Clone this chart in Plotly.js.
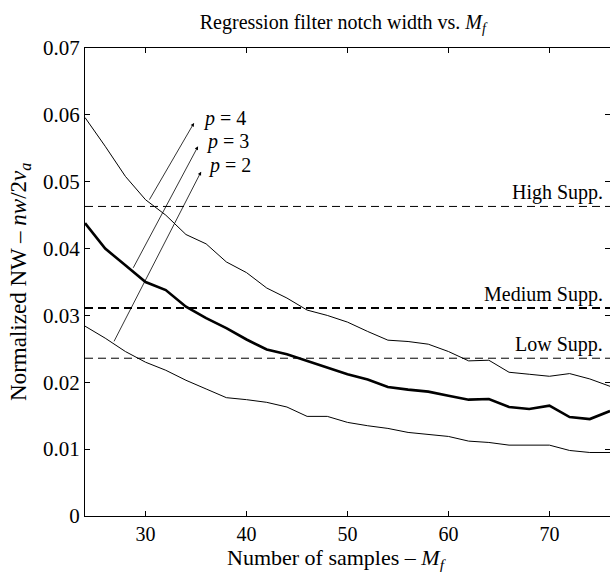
<!DOCTYPE html>
<html>
<head>
<meta charset="utf-8">
<script src="https://cdn.plot.ly/plotly-3.0.1.min.js"></script>
<style>
  html, body { margin: 0; padding: 0; background: #fff; overflow: hidden; }
  #chart { width: 610px; height: 572px; }
</style>
</head>
<body>
<div id="chart"></div>
<script>
// ---- Data ----
const samplesMf = [24, 26, 28, 30, 32, 34, 36, 38, 40, 42, 44, 46, 48, 50, 52, 54, 56, 58, 60, 62, 64, 66, 68, 70, 72, 74, 76];

const nwP4 = [0.0596, 0.0553, 0.0508, 0.0473, 0.0450, 0.0421, 0.0407, 0.0380, 0.0364, 0.0341, 0.0326, 0.0308, 0.0300, 0.0290,
              0.0276, 0.0263, 0.0261, 0.0257, 0.0246, 0.0232, 0.0233, 0.0215, 0.0212, 0.0209, 0.0213, 0.0205, 0.0194];

const nwP3 = [0.0438, 0.0400, 0.0375, 0.0350, 0.0338, 0.0313, 0.0296, 0.0281, 0.0264, 0.0249, 0.0242, 0.0232, 0.0222, 0.0212,
              0.0204, 0.0193, 0.0189, 0.0186, 0.0180, 0.0174, 0.0175, 0.0163, 0.0160, 0.0165, 0.0148, 0.0145, 0.0157];

const nwP2 = [0.0284, 0.0266, 0.0246, 0.0230, 0.0218, 0.0203, 0.0190, 0.0177, 0.0174, 0.0170, 0.0163, 0.0149, 0.0149, 0.0140,
              0.0135, 0.0131, 0.0125, 0.0122, 0.0119, 0.0112, 0.0110, 0.0106, 0.0106, 0.0106, 0.0098, 0.0095, 0.0095];

const suppLabels = ["High Supp.", "Medium Supp.", "Low Supp."];
const suppLevels = [0.0463, 0.0311, 0.0236];
const suppWidths = [1, 2, 1];

const curveLabels = ["<i>p</i> = 4", "<i>p</i> = 3", "<i>p</i> = 2"];
const arrowTailX = [30.3, 28.7, 26.8];
const arrowTailY = [0.0471, 0.0369, 0.0259];
const arrowHeadX = [34.8, 35.2, 35.5];
const arrowHeadY = [0.0588, 0.0553, 0.0515];
const labelX = [35.5, 35.8, 36.0];
const labelY = [0.0594, 0.0560, 0.0525];

const xTicks = [30, 40, 50, 60, 70];
const yTicks = [0, 0.01, 0.02, 0.03, 0.04, 0.05, 0.06, 0.07];
const xRange = [24, 76];
const yRange = [0, 0.07];

const titleText = "Regression filter notch width vs. <i>M</i><sub><i>f</i></sub>";
const xTitleText = "Number of samples – <i>M</i><sub><i>f</i></sub>";
const yTitleText = "Normalized NW – <i>nw</i>/2<i>v</i><sub><i>a</i></sub>";

// ---- Build traces ----
const FONT = "'Liberation Serif', 'Times New Roman', Times, serif";
const traces = [];

suppLevels.forEach((lvl, i) => {
  traces.push({
    x: xRange, y: [lvl, lvl], mode: "lines", type: "scatter",
    line: { color: "#000", width: suppWidths[i], dash: "8px,5px" },
    hoverinfo: "skip", showlegend: false
  });
});

traces.push({ x: samplesMf, y: nwP4, mode: "lines", type: "scatter", line: { color: "#000", width: 1 }, showlegend: false });
traces.push({ x: samplesMf, y: nwP3, mode: "lines", type: "scatter", line: { color: "#000", width: 2.6 }, showlegend: false });
traces.push({ x: samplesMf, y: nwP2, mode: "lines", type: "scatter", line: { color: "#000", width: 1 }, showlegend: false });

const annotations = [];
suppLevels.forEach((lvl, i) => {
  annotations.push({
    x: 75.5, y: lvl, xref: "x", yref: "y", text: suppLabels[i], showarrow: false,
    xanchor: "right", yanchor: "bottom", yshift: 0,
    font: { family: FONT, size: 20, color: "#000" }
  });
});
curveLabels.forEach((t, i) => {
  annotations.push({
    x: arrowHeadX[i], y: arrowHeadY[i], ax: arrowTailX[i], ay: arrowTailY[i],
    xref: "x", yref: "y", axref: "x", ayref: "y",
    text: "", showarrow: true, arrowhead: 2, arrowsize: 0.9, arrowwidth: 0.8, arrowcolor: "#000"
  });
  annotations.push({
    x: labelX[i], y: labelY[i], xref: "x", yref: "y", text: t, showarrow: false,
    xanchor: "left", yanchor: "middle",
    font: { family: FONT, size: 20, color: "#000" }
  });
});
// axis titles placed as paper annotations for exact positioning
annotations.push({
  x: 0.48, y: -0.091, xref: "paper", yref: "paper", text: xTitleText, showarrow: false,
  xanchor: "center", yanchor: "middle", font: { family: FONT, size: 22, color: "#000" }
});
annotations.push({
  x: -0.124, y: 0.50, xref: "paper", yref: "paper", text: yTitleText, showarrow: false,
  textangle: -90, xanchor: "center", yanchor: "middle", font: { family: FONT, size: 23, color: "#000" }
});

const layout = {
  width: 610, height: 572,
  margin: { l: 85, r: 0, t: 48, b: 56 },
  paper_bgcolor: "#fff", plot_bgcolor: "#fff",
  font: { family: FONT, size: 20, color: "#000" },
  showlegend: false,
  title: {
    text: titleText,
    x: 0.562, xanchor: "center", y: 0.962, yanchor: "middle",
    font: { family: FONT, size: 20, color: "#000" }
  },
  xaxis: {
    range: xRange, tickvals: xTicks, ticktext: xTicks.map(String),
    ticks: "inside", ticklen: 5, tickwidth: 1, tickcolor: "#000",
    showline: true, linecolor: "#000", linewidth: 1, mirror: "ticks",
    showgrid: false, zeroline: false,
    tickfont: { family: FONT, size: 20 }
  },
  yaxis: {
    range: yRange, tickvals: yTicks, ticktext: yTicks.map(v => v === 0 ? "0" : v.toFixed(2)),
    ticks: "inside", ticklen: 5, tickwidth: 1, tickcolor: "#000",
    showline: true, linecolor: "#000", linewidth: 1, mirror: "ticks",
    showgrid: false, zeroline: false,
    tickfont: { family: FONT, size: 21 }
  },
  annotations: annotations
};

Plotly.newPlot("chart", traces, layout, { staticPlot: true, displayModeBar: false });
</script>
</body>
</html>
